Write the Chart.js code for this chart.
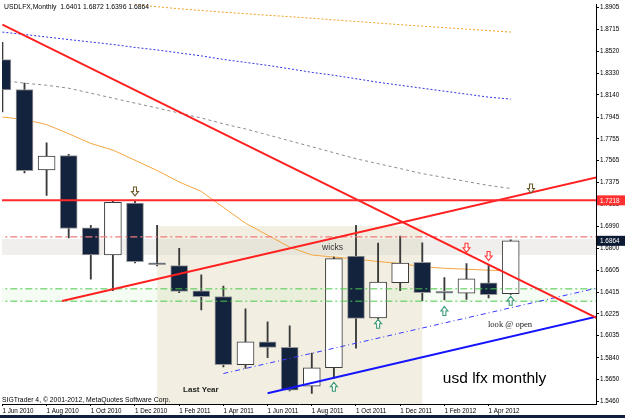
<!DOCTYPE html>
<html><head><meta charset="utf-8">
<script src="https://cdn.jsdelivr.net/npm/chart.js@4.4.1/dist/chart.umd.min.js"></script>
<style>
html,body{margin:0;padding:0;background:#10203e;overflow:hidden}
canvas{display:block;background:#fff}
</style></head><body>
<canvas id="c" width="625" height="415"></canvas>
<script>
// ---- data ----
const months = ['Jun 2010','Jul 2010','Aug 2010','Sep 2010','Oct 2010','Nov 2010','Dec 2010','Jan 2011','Feb 2011','Mar 2011','Apr 2011','May 2011','Jun 2011','Jul 2011','Aug 2011','Sep 2011','Oct 2011','Nov 2011','Dec 2011','Jan 2012','Feb 2012','Mar 2012','Apr 2012','May 2012'];
const openV  = [1.8449,1.8188,1.7484,1.7609,1.6977,1.6740,1.7194,1.6668,1.6647,1.6427,1.6377,1.5781,1.5981,1.5932,1.5593,1.5754,1.6731,1.6190,1.6497,1.6676,1.6418,1.6407,1.6497,1.6401];
const highV  = [1.8600,1.8245,1.7721,1.7620,1.7000,1.7218,1.7218,1.7000,1.6798,1.6566,1.6468,1.6268,1.6155,1.6120,1.5882,1.6722,1.7000,1.6844,1.6905,1.6847,1.6543,1.6664,1.6659,1.6872];
const lowV   = [1.7991,1.7459,1.7261,1.6890,1.6529,1.6427,1.6670,1.6644,1.6410,1.6259,1.5761,1.5747,1.5842,1.5552,1.5530,1.5662,1.5926,1.6184,1.6427,1.6340,1.6346,1.6351,1.6364,1.6396];
const closeV = [1.8184,1.7478,1.7606,1.6972,1.6740,1.7200,1.6682,1.6655,1.6421,1.6375,1.5781,1.5980,1.5932,1.5558,1.5752,1.6708,1.6186,1.6503,1.6670,1.6410,1.6405,1.6531,1.6392,1.6864];
const maFast = [1.7947,1.7925,1.7881,1.7801,1.7716,1.7658,1.7569,1.7479,1.7379,1.7296,1.7157,1.7018,1.6914,1.6809,1.6740,1.6722,1.6705,1.6683,1.6666,1.6636,1.6624,1.6616,1.6607,1.6601];
const maMid  = [1.8269,1.8243,1.8225,1.8199,1.8156,1.8112,1.8069,1.8026,1.7982,1.7939,1.7887,1.7843,1.7791,1.7739,1.7687,1.7635,1.7582,1.7539,1.7496,1.7452,1.7418,1.7383,1.7348,1.7322];
const maSlow = [1.8690,1.8669,1.8647,1.8625,1.8603,1.8582,1.8556,1.8534,1.8508,1.8482,1.8451,1.8425,1.8399,1.8369,1.8338,1.8312,1.8282,1.8251,1.8225,1.8199,1.8173,1.8147,1.8121,1.8104];
const maLong = [1.9016,1.9003,1.8990,1.8977,1.8960,1.8947,1.8929,1.8912,1.8894,1.8879,1.8864,1.8851,1.8837,1.8825,1.8811,1.8797,1.8783,1.8769,1.8755,1.8742,1.8729,1.8716,1.8703,1.8690];
const yTickLabels = ['1.8905','1.8715','1.8520','1.8330','1.8140','1.7945','1.7755','1.7565','1.7375','1.7185','1.6990','1.6800','1.6605','1.6415','1.6225','1.6035','1.5840','1.5650','1.5460'];
const xTickIdx = [0,2,4,6,8,10,12,14,16,18,20,22];
const levelRed = 1.7218, levelPink = 1.6899, greenHi = 1.6444, greenLo = 1.6336;
const grayBand = [1.6740, 1.6880];
const lastYear = {from: 7, to: 19, top: 1.6992};
const trendRedDown = [{x:0, y:1.8756}, {x:27, y:1.6179}];
const trendRedUp   = [{x:2.7, y:1.6338}, {x:27, y:1.7425}];
const trendBlue    = [{x:12, y:1.5530}, {x:27, y:1.6206}];
const trendBlueDash= [{x:10, y:1.5703}, {x:27, y:1.6455}];
const arrowsDark  = [{i:6, v:1.7296}, {i:23.92, v:1.7322}];
const arrowsRed   = [{i:21, v:1.6803}, {i:22, v:1.6731}];
const arrowsGreen = [{i:15, v:1.5587}, {i:17, v:1.6138}, {i:20, v:1.6250}, {i:23, v:1.6340}];
const notes = [
  {text:'wicks', i:14.94, v:1.6801, style:'a'},
  {text:'look @ open', i:22.97, v:1.6132, style:'b'},
  {text:'usd lfx monthly', i:22.27, v:1.5662, style:'c'},
  {text:'Last Year', i:8.98, v:1.5561, style:'d'}
];
const noteStyles = {
  a:{font:'8.6px "Liberation Sans"', color:'#333'},
  b:{font:'8.6px "Liberation Serif"', color:'#222'},
  c:{font:'15.5px "Liberation Sans"', color:'#000'},
  d:{font:'bold 8px "Liberation Sans"', color:'#222'}
};

Chart.defaults.font.family = '"Liberation Sans", Arial, sans-serif';
Chart.defaults.color = '#000';

const pts = arr => arr.map((v,i)=>({x:i, y:v}));
const lineDs = (data, color, width, dash, order) => ({
  type:'line', data, borderColor:color, borderWidth:width, borderDash:dash||[],
  pointRadius:0, fill:false, tension:0, order, clip:0
});
const hline = v => [{x:-1, y:v}, {x:28, y:v}];

function drawArrow(ctx, x, y, dir, color){
  const s = dir; // 1 down, -1 up
  ctx.beginPath();
  ctx.moveTo(x-1.5, y-4.5*s);
  ctx.lineTo(x+1.5, y-4.5*s);
  ctx.lineTo(x+1.5, y);
  ctx.lineTo(x+3.5, y);
  ctx.lineTo(x, y+4.5*s);
  ctx.lineTo(x-3.5, y);
  ctx.lineTo(x-1.5, y);
  ctx.closePath();
  ctx.fillStyle = '#fff'; ctx.fill();
  ctx.strokeStyle = color; ctx.lineWidth = 1.1; ctx.stroke();
}

const overlay = {
  id:'overlay',
  beforeDatasetsDraw(chart){
    const {ctx, chartArea:a, scales:{x, y}} = chart;
    ctx.save();
    ctx.beginPath(); ctx.rect(a.left, a.top, a.width, a.height); ctx.clip();
    const x0 = x.getPixelForValue(lastYear.from), x1 = x.getPixelForValue(lastYear.to);
    const yt = y.getPixelForValue(lastYear.top);
    ctx.fillStyle = '#f2efe2';
    ctx.fillRect(x0, yt, x1-x0, a.bottom-yt);
    const g0 = y.getPixelForValue(grayBand[1]), g1 = y.getPixelForValue(grayBand[0]);
    ctx.fillStyle = 'rgba(205,203,195,0.3)';
    ctx.fillRect(a.left, g0, a.width, g1-g0);
    const h0 = y.getPixelForValue(greenHi), h1 = y.getPixelForValue(greenLo);
    ctx.fillStyle = 'rgba(200,238,195,0.2)';
    ctx.fillRect(a.left, h0, a.width, h1-h0);
    ctx.restore();
  },
  afterDatasetsDraw(chart){
    const {ctx, chartArea:a, scales:{x, y}} = chart;
    ctx.save();
    arrowsDark.forEach(p=>drawArrow(ctx, x.getPixelForValue(p.i), y.getPixelForValue(p.v), 1, '#6b5a2a'));
    arrowsRed.forEach(p=>drawArrow(ctx, x.getPixelForValue(p.i), y.getPixelForValue(p.v), 1, '#ff3838'));
    arrowsGreen.forEach(p=>drawArrow(ctx, x.getPixelForValue(p.i), y.getPixelForValue(p.v), -1, '#3a9a78'));
    ctx.textAlign = 'center'; ctx.textBaseline = 'middle';
    notes.forEach(n=>{
      const st = noteStyles[n.style];
      ctx.font = st.font; ctx.fillStyle = st.color;
      ctx.fillText(n.text, x.getPixelForValue(n.i), y.getPixelForValue(n.v));
    });
    ctx.restore();
  },
  afterDraw(chart){
    const {ctx, chartArea:a, scales:{x, y}} = chart;
    ctx.save();
    ctx.font = '6.4px "Liberation Sans"'; ctx.textBaseline = 'middle'; ctx.textAlign = 'left';
    const yr = y.getPixelForValue(levelRed);
    ctx.fillStyle = '#ff3030'; ctx.fillRect(a.right+1, yr-5, 28, 10);
    ctx.fillStyle = '#fff'; ctx.fillText(levelRed.toFixed(4), a.right+4, yr+0.5);
    const last = closeV[closeV.length-1];
    const yc = y.getPixelForValue(last);
    ctx.fillStyle = '#0c1a33'; ctx.fillRect(a.right+1, yc-5, 28, 10);
    ctx.fillStyle = '#fff'; ctx.fillText(last.toFixed(4), a.right+4, yc+0.5);
    const n = openV.length-1;
    ctx.fillStyle = '#000'; ctx.font = '6.8px "Liberation Sans"';
    ctx.fillText('USDLFX,Monthly  ' + [openV[n], highV[n], lowV[n], closeV[n]].map(v=>v.toFixed(4)).join(' '), 4, 7.5);
    ctx.fillText('SIGTrader 4, \u00a9 2001-2012, MetaQuotes Software Corp.', 2, 400);
    ctx.restore();
  }
};

const bear = i => closeV[i] < openV[i];

new Chart(document.getElementById('c'), {
  type:'bar',
  data:{
    datasets:[
      { type:'bar', label:'body', data: months.map((m,i)=>({x:i, y:[openV[i], closeV[i]]})),
        backgroundColor: months.map((m,i)=> bear(i) ? '#14233d' : '#ffffff'),
        borderColor: months.map((m,i)=> bear(i) ? '#9a9a9a' : '#3a3a3a'),
        borderWidth:1, borderSkipped:false, barThickness:17, grouped:false, minBarLength:2, order:4, clip:0 },
      { type:'bar', label:'wick', data: months.map((m,i)=>({x:i, y:[lowV[i], highV[i]]})),
        backgroundColor:'#3a3a3a', borderWidth:0, barThickness:1.2, grouped:false, order:5, clip:0 },
      lineDs(pts(maFast), '#f5a640', 1, [], 10),
      lineDs(pts(maMid), '#8c8c8c', 1, [3,3], 10),
      lineDs(pts(maSlow), '#3434e6', 1, [2,2], 10),
      lineDs(pts(maLong), '#f0a020', 1, [2,2], 10),
      lineDs(hline(levelPink), '#f07a7a', 1.3, [7,3,2,3], 2),
      lineDs(hline(greenHi), '#4cc84c', 1, [7,3,2,3], 2),
      lineDs(hline(greenLo), '#4cc84c', 1, [7,3,2,3], 2),
      lineDs(hline(levelRed), '#ff2a2a', 2, [], 1),
      lineDs(trendRedDown, '#ff2020', 2, [], 1),
      lineDs(trendRedUp, '#ff2020', 2, [], 1),
      lineDs(trendBlue, '#1414ff', 2, [], 1),
      lineDs(trendBlueDash, '#3a3aff', 1, [5,3,1,3], 1)
    ]
  },
  options:{
    responsive:false, animation:false, devicePixelRatio:1,
    layout:{padding:{left:2, top:2, right:0, bottom:0}},
    plugins:{legend:{display:false}, tooltip:{enabled:false}},
    scales:{
      x:{ type:'linear', min:-0.018, max:26.86, offset:false,
          afterBuildTicks: s => { s.ticks = xTickIdx.map(v=>({value:v})); },
          afterFit: s => { s.height = 11; },
          ticks:{ callback: v => '1 ' + months[v], align:'start', maxRotation:0, autoSkip:false,
                  font:{size:6.3}, padding:1, color:'#000' },
          grid:{ drawOnChartArea:false, drawTicks:true, tickLength:2, color:'#000', offset:false },
          border:{ display:true, color:'#000', width:1 } },
      y:{ type:'linear', position:'right', min:1.54365, max:1.8929,
          afterBuildTicks: s => { s.ticks = yTickLabels.map(t=>({value: parseFloat(t)})); },
          afterFit: s => { s.width = 29; },
          ticks:{ callback: (v, idx) => yTickLabels[idx], font:{size:6.3}, padding:1, color:'#000', autoSkip:false },
          grid:{ drawOnChartArea:false, drawTicks:true, tickLength:3, color:'#000' },
          border:{ display:true, color:'#000', width:1 } }
    }
  },
  plugins:[overlay]
});
</script>
</body></html>
